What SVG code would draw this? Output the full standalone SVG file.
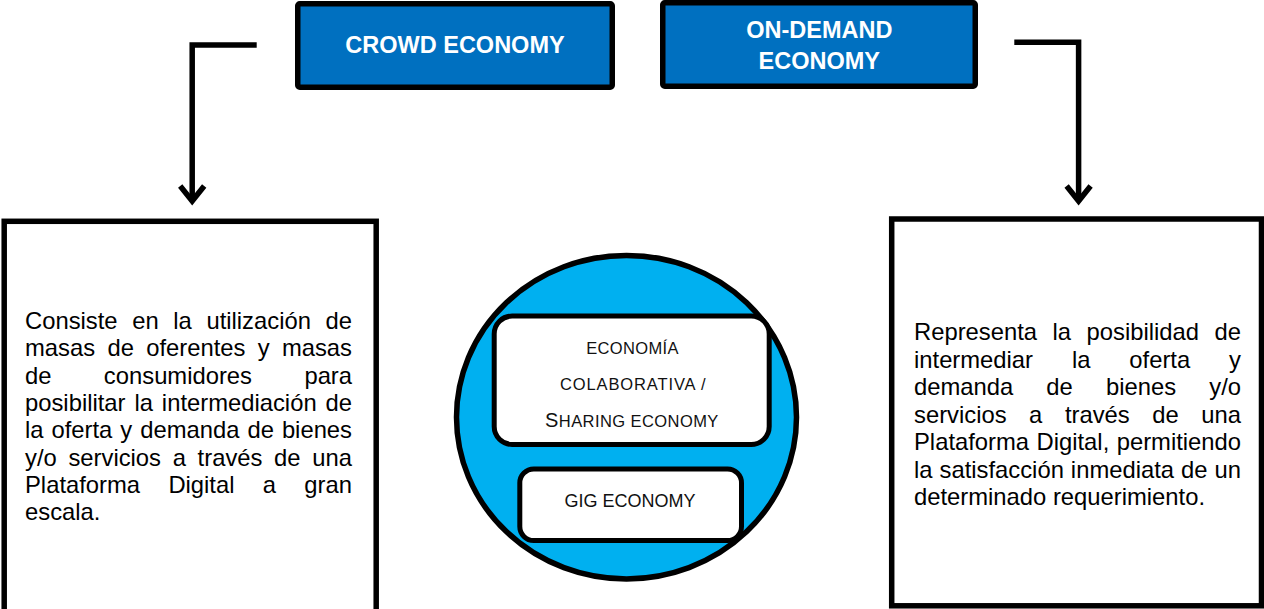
<svg xmlns="http://www.w3.org/2000/svg" width="1264" height="609" viewBox="0 0 1264 609">
  <style>
    .head { fill: #0070C0; stroke: #000; stroke-width: 5.5; }
    .head-text { font-family: "Liberation Sans", Arial, sans-serif; font-weight: bold; font-size: 23.5px; fill: #fff; text-anchor: middle; }
    .desc { fill: #fff; stroke: #000; stroke-width: 5.5; }
    .body { font-family: "Liberation Sans", Arial, sans-serif; font-size: 23.8px; fill: #000; font-kerning: none; }
    .pill { fill: #fff; stroke: #000; stroke-width: 5; }
    .sc { font-family: "Liberation Sans", Arial, sans-serif; font-size: 16.5px; fill: #111; text-anchor: middle; }
    .gig { font-family: "Liberation Sans", Arial, sans-serif; font-size: 18px; fill: #111; text-anchor: middle; }
    .conn { fill: none; stroke: #000; stroke-width: 5.5; stroke-linejoin: miter; }
  </style>
  <defs>
    <marker id="chev" viewBox="-22 -18 28 36" refX="0" refY="0" markerWidth="28" markerHeight="36" orient="auto" markerUnits="userSpaceOnUse">
      <path d="M-15,-12 L0,0 L-15,12" fill="none" stroke="#000" stroke-width="5.5" stroke-linejoin="miter" stroke-miterlimit="10"/>
    </marker>
  </defs>

  <rect width="1264" height="609" fill="#fff"/>

  <!-- connectors -->
  <g id="connectors">
    <path class="conn" d="M256.7,45 H192.2 V201" marker-end="url(#chev)"/>
    <path class="conn" d="M1014.3,42.2 H1078.6 V201" marker-end="url(#chev)"/>
  </g>

  <!-- header nodes -->
  <g id="crowd-economy">
    <rect class="head" x="297.75" y="3.75" width="314.5" height="83.5" rx="2"/>
    <text class="head-text" x="455" y="53">CROWD ECONOMY</text>
  </g>

  <g id="on-demand-economy">
    <rect class="head" x="662.75" y="2.75" width="312.5" height="83.5" rx="2"/>
    <text class="head-text" x="819.3" y="38">ON-DEMAND</text>
    <text class="head-text" x="819.3" y="69">ECONOMY</text>
  </g>

  <!-- description boxes -->
  <g id="crowd-description">
    <rect class="desc" x="4.2" y="221.3" width="372" height="420"/>
    <text class="body" x="25" y="329" word-spacing="8.0">Consiste en la utilización de</text>
    <text class="body" x="25" y="356.3" word-spacing="5.69">masas de oferentes y masas</text>
    <text class="body" x="25" y="383.6" word-spacing="45.78">de consumidores para</text>
    <text class="body" x="25" y="410.9" word-spacing="2.3">posibilitar la intermediación de</text>
    <text class="body" x="25" y="438.2" word-spacing="1.37">la oferta y demanda de bienes</text>
    <text class="body" x="25" y="465.5" word-spacing="5.08">y/o servicios a través de una</text>
    <text class="body" x="25" y="492.8" word-spacing="21.7">Plataforma Digital a gran</text>
    <text class="body" x="25" y="520.1">escala.</text>
  </g>

  <g id="on-demand-description">
    <rect class="desc" x="891.7" y="219" width="369.8" height="386.8"/>
    <text class="body" x="914" y="340" word-spacing="8.91">Representa la posibilidad de</text>
    <text class="body" x="914" y="367.5" word-spacing="32.28">intermediar la oferta y</text>
    <text class="body" x="914" y="395" word-spacing="26.53">demanda de bienes y/o</text>
    <text class="body" x="914" y="422.5" word-spacing="15.94">servicios a través de una</text>
    <text class="body" x="914" y="450" word-spacing="0.82">Plataforma Digital, permitiendo</text>
    <text class="body" x="914" y="477.5" word-spacing="0.4">la satisfacción inmediata de un</text>
    <text class="body" x="914" y="505">determinado requerimiento.</text>
  </g>

  <!-- central circle with its two economies -->
  <g id="economy-circle">
    <ellipse cx="626.5" cy="417.2" rx="170" ry="161.8" fill="#00B0F0" stroke="#000" stroke-width="5.5"/>
  </g>

  <g id="sharing-economy">
    <rect class="pill" x="494.2" y="316" width="275" height="128.5" rx="18"/>
    <text class="sc" x="632.3" y="354" textLength="92.3" lengthAdjust="spacing">ECONOMÍA</text>
    <text class="sc" x="632.8" y="390" textLength="145.7" lengthAdjust="spacing">COLABORATIVA /</text>
    <text class="sc" x="631.7" y="426.7" textLength="173.3" lengthAdjust="spacing"><tspan font-size="20px">S</tspan>HARING ECONOMY</text>
  </g>

  <g id="gig-economy">
    <rect class="pill" x="519.8" y="469" width="221.7" height="71.5" rx="14"/>
    <text class="gig" x="630" y="506.7">GIG ECONOMY</text>
  </g>
</svg>
